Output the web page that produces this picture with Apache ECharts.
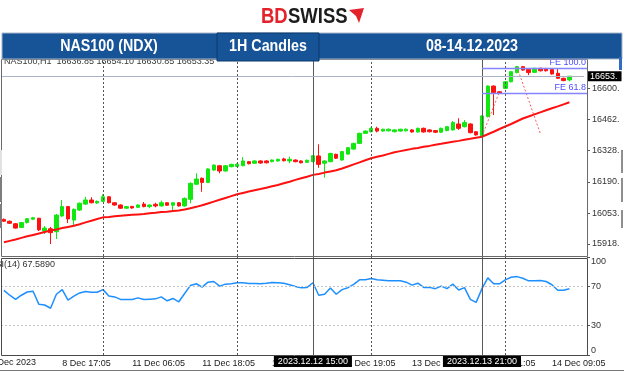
<!DOCTYPE html>
<html><head><meta charset="utf-8">
<script src="https://cdn.jsdelivr.net/npm/echarts@6/dist/echarts.min.js"></script>
<style>html,body{margin:0;padding:0;background:#fff}#c{width:624px;height:372px}</style>
</head><body><div id="c"></div>
<script>
// ---- data ----
// candles: [open, close, low, high]
const candles = [
[16026,16018,16015,16030],[16018,16009,16006,16021],[16007,15988,15986,16010],[15991,16012,15988,16015],
[16012,16029,16008,16032],[16027,16033,16023,16037],[16031,15980,15975,16033],[15975,15988,15962,15997],
[15985,15968,15918,15993],[15972,16045,15940,16050],[16041,16082,16037,16111],[16082,16028,16010,16085],
[16023,16070,15997,16074],[16067,16097,16063,16100],[16093,16111,16089,16125],[16111,16099,16096,16123],
[16098,16105,16094,16109],[16105,16125,16102,16136],[16125,16099,16096,16128],[16099,16089,16086,16102],
[16089,16075,16072,16092],[16075,16082,16072,16085],[16083,16076,16073,16085],[16079,16089,16076,16092],
[16093,16082,16079,16102],[16082,16089,16075,16092],[16092,16085,16079,16099],[16085,16099,16082,16108],
[16099,16088,16085,16102],[16088,16099,16067,16102],[16099,16085,16082,16102],[16085,16118,16082,16122],
[16114,16184,16097,16188],[16180,16203,16177,16228],[16206,16188,16147,16210],[16188,16247,16185,16250],
[16242,16264,16239,16267],[16261,16238,16228,16264],[16238,16261,16235,16264],[16257,16267,16254,16270],
[16258,16268,16255,16271],[16261,16282,16259,16299],[16279,16270,16267,16282],[16272,16282,16269,16285],
[16282,16273,16270,16285],[16282,16274,16271,16285],[16279,16286,16276,16289],[16282,16289,16279,16292],
[16291,16283,16280,16296],[16282,16289,16272,16301],[16286,16279,16276,16289],[16282,16274,16271,16285],
[16276,16285,16273,16288],[16279,16305,16276,16308],[16304,16267,16252,16355],[16272,16282,16209,16285],
[16279,16315,16276,16318],[16311,16294,16291,16314],[16286,16323,16283,16326],[16312,16340,16309,16343],
[16334,16359,16331,16362],[16359,16403,16356,16406],[16403,16413,16400,16416],[16410,16425,16407,16428],
[16425,16413,16407,16432],[16413,16421,16410,16423],[16414,16421,16411,16424],[16410,16418,16407,16421],
[16413,16421,16410,16423],[16414,16421,16411,16424],[16418,16409,16406,16421],[16409,16425,16406,16428],
[16425,16409,16406,16428],[16418,16410,16407,16421],[16415,16408,16404,16418],[16408,16425,16404,16428],
[16415,16432,16412,16435],[16418,16450,16415,16457],[16444,16425,16418,16469],[16432,16450,16429,16461],
[16444,16406,16403,16447],[16410,16396,16393,16413],[16391,16479,16387,16482],[16476,16610,16473,16613],
[16610,16581,16483,16613],[16585,16578,16575,16588],[16600,16629,16597,16632],[16629,16673,16626,16676],
[16669,16695,16666,16698],[16695,16680,16677,16698],[16683,16669,16658,16686],[16670,16688,16667,16690],
[16688,16677,16674,16690],[16687,16677,16674,16690],[16683,16663,16660,16686],[16666,16644,16641,16688],
[16644,16634,16631,16647],[16636.85,16653.35,16630.85,16654.10]
];
const movingAverage = [
15926,15932,15938,15945,15952,15958,15964,15971,15977,15982,
15988,15993,15998,16005,16013,16020,16028,16035,16037,16040,
16042,16044,16046,16048,16050,16053,16055,16058,16060,16063,
16065,16069,16075,16081,16088,16096,16104,16112,16120,16128,
16136,16142,16148,16154,16159,16165,16171,16177,16184,16191,
16199,16206,16213,16221,16225,16231,16236,16241,16249,16258,
16267,16276,16285,16294,16300,16306,16313,16320,16325,16330,
16335,16339,16344,16348,16353,16357,16362,16366,16370,16375,
16379,16384,16388,16399,16410,16422,16433,16444,16456,16468,
16477,16486,16495,16504,16513,16521,16530,16539
];
const rsiValues = [
66,61,56.7,61,64.3,65,51.7,51,47.7,62,
66.7,56,60,63.3,64.7,64,64,66.7,60.3,59.3,
56.7,56.7,56.7,58.3,56.7,57,57.3,59.3,55.3,57.7,
54.3,62.7,71,72.7,69.3,74.3,75,70.3,72.3,72.7,
73.7,73.7,73,73,72.7,73.3,74,73.7,73.3,71.7,
70,68.5,69,73.7,61,62,68.3,62,66.7,68.7,
72,76.7,76.7,78,76.7,76.3,75.7,75.7,75.7,74.3,
71.3,73.3,69,69,67.7,70.3,67.7,72.3,66.3,68.7,
56.7,53.7,67.7,78.7,72.7,72.7,76.7,79.3,80,78.3,
75.7,75.7,76,75,71.7,66,66,67.589
];
const slotCount = 100;
const xTickIndex = [10,22,34,46,58,70,82,94];
const xTickLabels = ['8 Dec 17:05','11 Dec 06:05','11 Dec 18:05','12 Dec 07:05','12 Dec 19:05','13 Dec 09:05','13 Dec 21:05','14 Dec 09:05'];
const firstTickIndex = -2.4;
const firstTickLabel = '8 Dec 2023';
const priceTicks = [15918.35,16053.6,16190.2,16328.0,16462.9,16600.0];
const rsiTicks = [0,30,70,100];
const rsiLevels = [30,70];
const daySeparators = [17,40,63,86];
const markerIndex = [53,82];
const markerLabels = ['2023.12.12 15:00','2023.12.13 21:00'];
const bidPrice = 16653.35;
const feNames = ['FE 100.0','FE 61.8'];
const feValues = [16690.5,16581];
const feStart = 82;
const fePathUp = [[82,16391],[85,16584]];
const fePathDown = [[88,16694],[92,16403]];
const infoText = 'NAS100,H1  16636.85 16654.10 16630.85 16653.35';
const rsiTitle = 'RSI(14) 67.5890';
const bannerTexts = ['NAS100 (NDX)','1H Candles','08-14.12.2023'];

// ---- chart ----
const FONT = "'Liberation Sans', Arial, sans-serif";
const cats = Array.from({length: slotCount}, (_, i) => String(i));
const tickMap = {};
xTickIndex.forEach((k, j) => { tickMap[k] = xTickLabels[j]; });

const vLines = daySeparators.map(i => ({xAxis: String(i), lineStyle: {type: [2, 2], color: '#555', width: 1}}))
  .concat(markerIndex.map(i => ({xAxis: String(i), lineStyle: {type: 'solid', color: '#5a5a5a', width: 1}})));

const option = {
  animation: false,
  backgroundColor: '#ffffff',
  grid: [
    {left: 1, top: 60, width: 583, height: 196},
    {left: 1, top: 257, width: 583, height: 98}
  ],
  xAxis: [
    {type: 'category', gridIndex: 0, data: cats, boundaryGap: true,
     axisLine: {show: false}, axisTick: {show: false}, axisLabel: {show: false}, splitLine: {show: false}},
    {type: 'category', gridIndex: 1, data: cats, boundaryGap: true,
     axisLine: {show: false}, axisTick: {show: false}, splitLine: {show: false},
     axisLabel: {show: true, interval: (i) => tickMap[i] !== undefined,
       formatter: (v) => tickMap[+v] || '', align: 'left', fontSize: 9, fontFamily: FONT, color: '#1a1a1a', margin: 4}}
  ],
  yAxis: [
    {type: 'value', gridIndex: 0, position: 'right', offset: 3, min: 15865.7, max: 16724.2,
     splitLine: {show: false}, axisLine: {show: false},
     axisTick: {show: true, length: 3, lineStyle: {color: '#555'}, customValues: priceTicks},
     axisLabel: {customValues: priceTicks, formatter: v => Math.floor(v) + '.', fontSize: 9, fontFamily: FONT, color: '#333', margin: 5}},
    {type: 'value', gridIndex: 1, position: 'right', offset: 3, min: 0, max: 100,
     splitLine: {show: false}, axisLine: {show: false},
     axisTick: {show: true, length: 3, lineStyle: {color: '#555'}, customValues: rsiTicks},
     axisLabel: {customValues: rsiTicks, fontSize: 9, fontFamily: FONT, color: '#333', margin: 4,
       formatter: v => v === 100 ? '{t|100}' : (v === 0 ? '{b|0}' : '{m|' + v + '}'),
       rich: {t: {padding: [10, 0, 0, 0], fontSize: 9, fontFamily: FONT, color: '#333'},
              b: {padding: [0, 0, 9, 0], fontSize: 9, fontFamily: FONT, color: '#333'},
              m: {fontSize: 9, fontFamily: FONT, color: '#333'}}}}
  ],
  series: [
    {type: 'candlestick', xAxisIndex: 0, yAxisIndex: 0, data: candles, barWidth: 4,
     itemStyle: {color: '#10e810', color0: '#ff1010', borderColor: '#10e810', borderColor0: '#ff1010', borderWidth: 1},
     markLine: {silent: true, symbol: ['none', 'none'], label: {show: false}, animation: false,
       data: vLines.concat([{yAxis: bidPrice, lineStyle: {type: 'solid', color: '#aab3c5', width: 1}}])}},
    {type: 'line', xAxisIndex: 0, yAxisIndex: 0, data: movingAverage, symbol: 'none', z: 3,
     lineStyle: {color: '#ff1010', width: 2}},
    {type: 'line', xAxisIndex: 0, yAxisIndex: 0, data: fePathUp, symbol: 'none',
     lineStyle: {color: '#ff5a5a', width: 1, type: [2, 2]}},
    {type: 'line', xAxisIndex: 0, yAxisIndex: 0, data: fePathDown, symbol: 'none',
     lineStyle: {color: '#ff5a5a', width: 1, type: [2, 2]}},
    {type: 'line', xAxisIndex: 1, yAxisIndex: 1, data: rsiValues, symbol: 'none',
     lineStyle: {color: '#1e8fff', width: 1.5},
     markLine: {silent: true, symbol: ['none', 'none'], label: {show: false}, animation: false,
       data: rsiLevels.map(v => ({yAxis: v, lineStyle: {type: [2, 2], color: '#c4c4c4', width: 1}})).concat(vLines)}}
  ]
};

const chart = echarts.init(document.getElementById('c'), null, {renderer: 'canvas', width: 624, height: 372});
chart.setOption(option);

const xPix = i => chart.convertToPixel({xAxisIndex: 0}, String(i));
const yPix = v => chart.convertToPixel({yAxisIndex: 0}, v);
const band = xPix(1) - xPix(0);

const g = [];
// banner and logo (layout)
g.push({type: 'rect', z: 50, shape: {x: 2, y: 33, width: 620, height: 26}, style: {fill: '#165397', stroke: '#a9b7c9', lineWidth: 1}});
g.push({type: 'rect', z: 51, shape: {x: 217, y: 33, width: 102, height: 28}, style: {fill: '#165397', stroke: '#0d3a6c', lineWidth: 1}});
g.push({type: 'rect', z: 51, shape: {x: 619, y: 57, width: 3, height: 13}, style: {fill: '#2f6cc2'}});
const bannerX = [109, 268, 472];
bannerTexts.forEach((t, k) => g.push({type: 'text', z: 52, x: bannerX[k], y: 46.5, scaleX: 0.84,
  style: {text: t, fill: '#ffffff', font: 'bold 17px ' + FONT, align: 'center', verticalAlign: 'middle'}}));
g.push({type: 'text', z: 52, x: 261, y: 17, scaleX: 0.84, style: {text: 'BD', fill: '#e3222b', font: 'bold 22px ' + FONT, align: 'left', verticalAlign: 'middle'}});
g.push({type: 'text', z: 52, x: 288, y: 17, scaleX: 0.84, style: {text: 'SWISS', fill: '#1c1c1c', font: 'bold 22px ' + FONT, align: 'left', verticalAlign: 'middle'}});
g.push({type: 'polygon', z: 52, shape: {points: [[349, 10], [364, 8], [359, 23], [356, 16]]}, style: {fill: '#e3222b'}});
// pane frames
g.push({type: 'rect', z: 20, shape: {x: 1.5, y: 59.5, width: 586, height: 197}, style: {fill: 'none', stroke: '#6a6a6a', lineWidth: 1}});
g.push({type: 'rect', z: 20, shape: {x: 1.5, y: 258.5, width: 586, height: 97}, style: {fill: 'none', stroke: '#4a4a4a', lineWidth: 1}});
g.push({type: 'line', z: 20, shape: {x1: 0, y1: 370.5, x2: 624, y2: 370.5}, style: {stroke: '#777', lineWidth: 1}});
// edge artifacts
[[0, 150, 25, '#e2e2e2'], [0, 177, 25, '#7d7d7d'], [0, 204, 24, '#7d7d7d'], [621, 150, 23, '#8f8f8f'], [621, 178, 24, '#8f8f8f'], [621, 210, 18, '#8f8f8f']]
  .forEach(a => g.push({type: 'rect', z: 21, shape: {x: a[0], y: a[1], width: 2, height: a[2]}, style: {fill: a[3]}}));
// texts in panes
g.push({type: 'text', z: 40, x: 4, y: 61.5, style: {text: infoText, fill: '#3a3a3a', font: '9px ' + FONT, align: 'left', verticalAlign: 'middle'}});
g.push({type: 'text', z: 40, x: -11, y: 264.5, style: {text: rsiTitle, fill: '#333', font: '9px ' + FONT, align: 'left', verticalAlign: 'middle'}});
g.push({type: 'text', z: 40, x: xPix(0) + firstTickIndex * band, y: 362.5, style: {text: firstTickLabel, fill: '#1a1a1a', font: '9px ' + FONT, align: 'left', verticalAlign: 'middle'}});
// fibonacci expansion levels
feValues.forEach((v, k) => {
  const y = Math.round(yPix(v)) + 0.5;
  g.push({type: 'line', z: 30, shape: {x1: xPix(feStart), y1: y, x2: 587, y2: y}, style: {stroke: '#8585ff', lineWidth: 1.5}});
  g.push({type: 'text', z: 31, x: 586, y: y - 1.5, style: {text: feNames[k], fill: '#4d4dff', font: '9px ' + FONT, align: 'right', verticalAlign: 'bottom'}});
});
// bid price box
g.push({type: 'text', z: 45, x: 588, y: yPix(bidPrice), style: {text: Math.floor(bidPrice) + '.', fill: '#fff', font: '9px ' + FONT, align: 'left', verticalAlign: 'middle', backgroundColor: '#000', padding: [1, 4, 0, 2]}});
// vertical marker date boxes
markerIndex.forEach((i, k) => g.push({type: 'text', z: 60, x: xPix(i), y: 361.5,
  style: {text: markerLabels[k], fill: '#fff', font: '9px ' + FONT, align: 'center', verticalAlign: 'middle', backgroundColor: '#000', padding: [1, 4, 1, 4]}}));

chart.setOption({graphic: {elements: g}});
</script></body></html>
